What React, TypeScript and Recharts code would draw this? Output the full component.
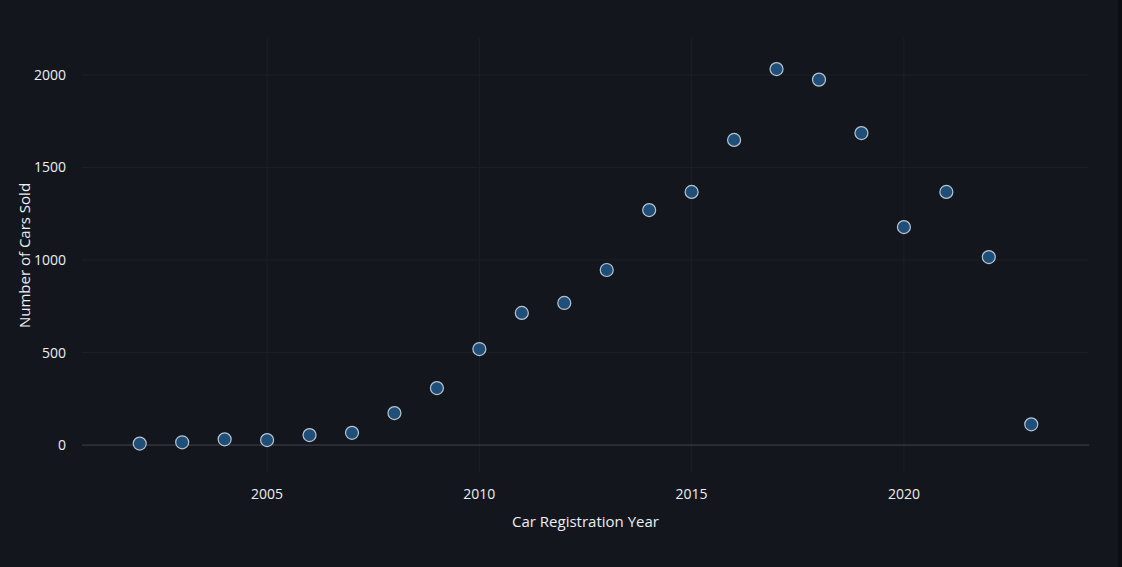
import React from "react";
import {
  ScatterChart,
  Scatter,
  XAxis,
  YAxis,
  CartesianGrid,
  ReferenceLine,
} from "recharts";

const years = [
  2002, 2003, 2004, 2005, 2006, 2007, 2008, 2009, 2010, 2011, 2012, 2013,
  2014, 2015, 2016, 2017, 2018, 2019, 2020, 2021, 2022, 2023,
];
const carsSold = [
  8, 15, 31, 27, 54, 66, 173, 308, 519, 714, 768, 946, 1270, 1368, 1649,
  2032, 1975, 1686, 1178, 1368, 1016, 112,
];
const xTicks = [2005, 2010, 2015, 2020];
const yTicks = [0, 500, 1000, 1500, 2000];
const yGrid = [500, 1000, 1500, 2000];

const data = years.map((y, i) => ({ year: y, sold: carsSold[i] }));

const BG = "#13171d";
const TEXT = "#eceef1";
const FONT = "'Open Sans', sans-serif";

export default function App() {
  return (
    <div
      style={{
        position: "fixed",
        left: 0,
        top: 0,
        width: 1122,
        height: 567,
        background: BG,
        fontFamily: FONT,
        overflow: "hidden",
      }}
    >
      <ScatterChart
        width={1122}
        height={567}
        margin={{ top: 38, right: 33, bottom: 0, left: 22 }}
      >
        <CartesianGrid
          stroke="#1b2026"
          strokeWidth={1}
          horizontalValues={yGrid}
          verticalValues={xTicks}
        />
        <XAxis
          type="number"
          dataKey="year"
          domain={[2000.64, 2024.36]}
          ticks={xTicks}
          allowDataOverflow
          axisLine={false}
          tickLine={false}
          height={94}
          tick={{ fill: TEXT, fontSize: 14, fontFamily: FONT }}
          tickMargin={10}
          label={{
            value: "Car Registration Year",
            position: "insideBottom",
            offset: 40,
            fill: TEXT,
            fontSize: 15,
            fontFamily: FONT,
          }}
        />
        <YAxis
          type="number"
          dataKey="sold"
          domain={[-151, 2200]}
          ticks={yTicks}
          allowDataOverflow
          axisLine={false}
          tickLine={false}
          width={60}
          tickMargin={10}
          tick={{ fill: TEXT, fontSize: 14, fontFamily: FONT }}
          label={{
            value: "Number of Cars Sold",
            angle: -90,
            position: "insideLeft",
            offset: 3,
            style: { textAnchor: "middle" },
            fill: TEXT,
            fontSize: 15,
            fontFamily: FONT,
          }}
        />
        <ReferenceLine y={0} stroke="#40454c" strokeWidth={1} />
        <Scatter
          data={data}
          isAnimationActive={false}
          shape={(props: any) => (
            <circle
              cx={props.cx}
              cy={props.cy}
              r={6.5}
              fill="#1f4e79"
              stroke="#b8c4d0"
              strokeWidth={1.2}
            />
          )}
        />
      </ScatterChart>
      <div
        style={{
          position: "absolute",
          right: 0,
          top: 0,
          width: 4,
          height: 567,
          background: "#0c0e11",
        }}
      />
    </div>
  );
}
